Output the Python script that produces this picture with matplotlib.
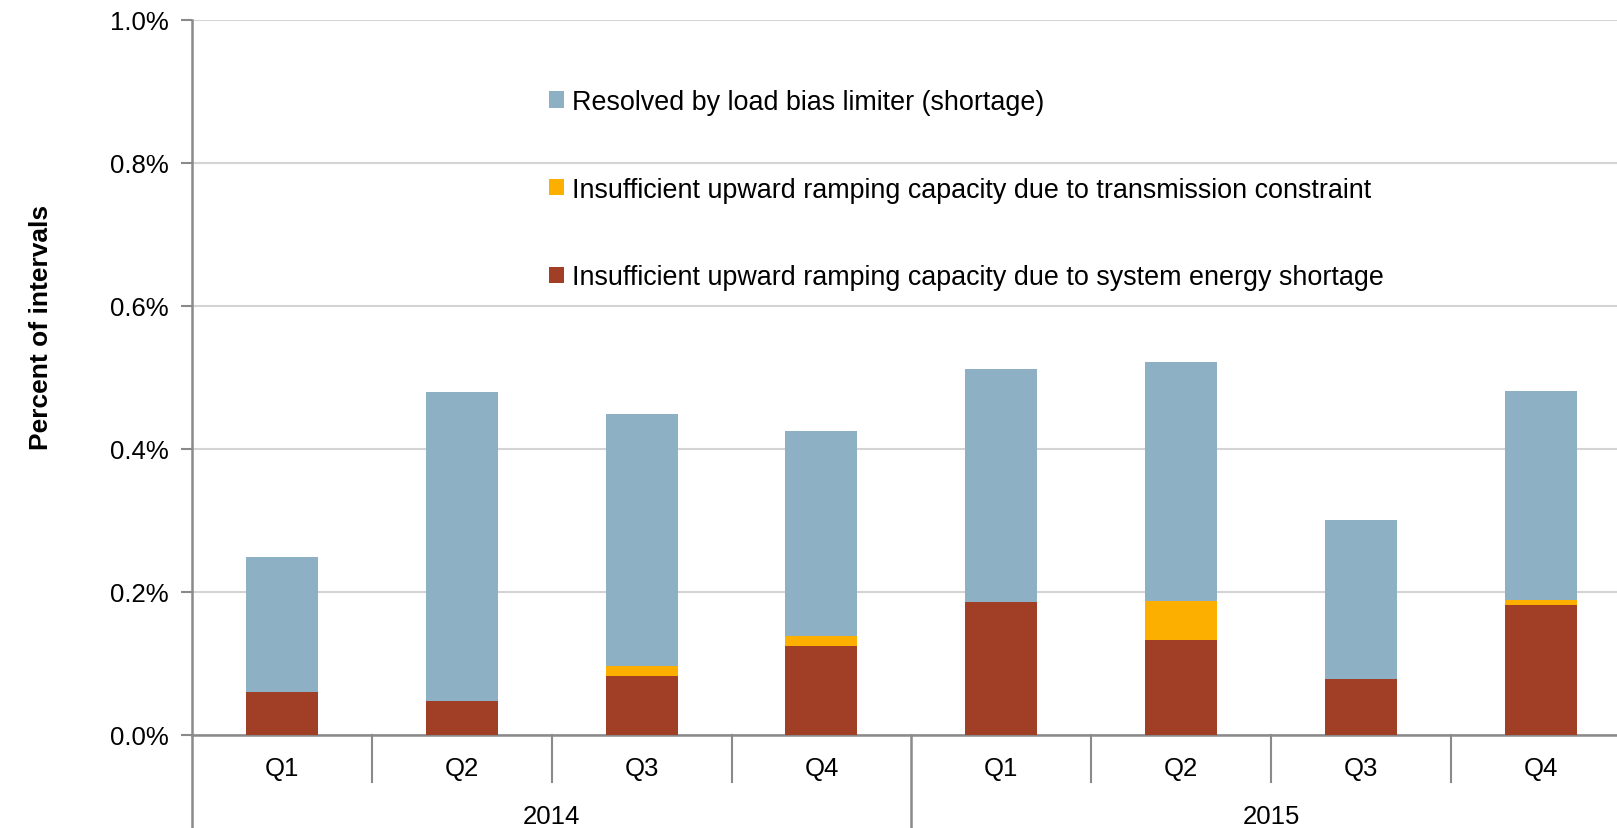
import matplotlib
matplotlib.use("Agg")
import matplotlib.pyplot as plt
from matplotlib.patches import Patch
from matplotlib.ticker import FuncFormatter, FixedLocator

# ---- data ----
quarters = ["Q1", "Q2", "Q3", "Q4", "Q1", "Q2", "Q3", "Q4"]
years = ["2014", "2015"]
system_shortage = [0.060, 0.048, 0.082, 0.124, 0.186, 0.133, 0.078, 0.182]
transmission = [0.0, 0.0, 0.015, 0.015, 0.0, 0.054, 0.0, 0.007]
load_bias = [0.189, 0.431, 0.352, 0.286, 0.325, 0.334, 0.222, 0.292]
y_ticks = [0.0, 0.2, 0.4, 0.6, 0.8, 1.0]

labels = [
    "Resolved by load bias limiter (shortage)",
    "Insufficient upward ramping capacity due to transmission constraint",
    "Insufficient upward ramping capacity due to system energy shortage",
]
c_blue = "#8DB0C5"
c_yellow = "#FDAF00"
c_red = "#A13F26"
axis_gray = "#8A8A8A"
grid_gray = "#D4D4D4"

plt.rcParams["font.family"] = ["Liberation Sans", "DejaVu Sans"]
FS = 18.5
LFS = 19.4

W, H = 1617, 829
fig = plt.figure(figsize=(W / 100, H / 100), dpi=100)
left_px, right_px, top_px, base_px = 191.8, 1631.0, 20.6, 736.0
ax = fig.add_axes([left_px / W, 1 - base_px / H, (right_px - left_px) / W, (base_px - top_px) / H])

x = list(range(len(quarters)))
bw = 0.4
ax.bar(x, system_shortage, width=bw, color=c_red, zorder=3)
bottom2 = [a for a in system_shortage]
ax.bar(x, transmission, width=bw, bottom=bottom2, color=c_yellow, zorder=3)
bottom3 = [a + b for a, b in zip(system_shortage, transmission)]
ax.bar(x, load_bias, width=bw, bottom=bottom3, color=c_blue, zorder=3)

ax.set_xlim(-0.5, len(quarters) - 0.5)
ax.set_ylim(0, 1.0)
ax.yaxis.set_major_locator(FixedLocator(y_ticks))
ax.yaxis.set_major_formatter(FuncFormatter(lambda v, p: f"{v:.1f}%"))
ax.tick_params(axis="y", direction="out", length=8, width=1.5, color=axis_gray,
               labelsize=FS, pad=8.5, labelcolor="black")
ax.set_xticks([])
ax.grid(axis="y", color=grid_gray, linewidth=1.5, zorder=0)
ax.set_axisbelow(True)
for s in ["top", "right"]:
    ax.spines[s].set_visible(False)
for s in ["left", "bottom"]:
    ax.spines[s].set_color(axis_gray)
    ax.spines[s].set_linewidth(1.8)

ax_h_px = base_px - top_px
tr = ax.get_xaxis_transform()
short = 47 / ax_h_px
long_ = (H - base_px) / ax_h_px
# category separators
for k in range(len(quarters) + 1):
    pos = k - 0.5
    if k % 4 == 0:
        ax.plot([pos, pos], [0, -long_], transform=tr, color=axis_gray, lw=1.8,
                clip_on=False, zorder=4)
    else:
        ax.plot([pos, pos], [0, -short], transform=tr, color=axis_gray, lw=1.5,
                clip_on=False, zorder=4)

# quarter labels
for xi, q in zip(x, quarters):
    ax.text(xi, -33 / ax_h_px, q, transform=tr, ha="center", va="center", fontsize=FS)
# year labels
for i, yr in enumerate(years):
    ax.text(i * 4 + 1.5, -81 / ax_h_px, yr, transform=tr, ha="center", va="center", fontsize=FS)

# y label
fig.text(41 / W, 1 - 327 / H, "Percent of intervals", rotation=90, ha="center",
         va="center", fontsize=19, fontweight="bold")

handles = [Patch(facecolor=c_blue), Patch(facecolor=c_yellow), Patch(facecolor=c_red)]
leg = fig.legend(handles, labels, loc="upper left", bbox_to_anchor=(549 / W, 1 - 90 / H),
                 frameon=False, fontsize=LFS, handlelength=0.56, handleheight=0.56,
                 handletextpad=0.28, labelspacing=2.29, borderpad=0, borderaxespad=0)

fig.savefig("out.png", dpi=100)
